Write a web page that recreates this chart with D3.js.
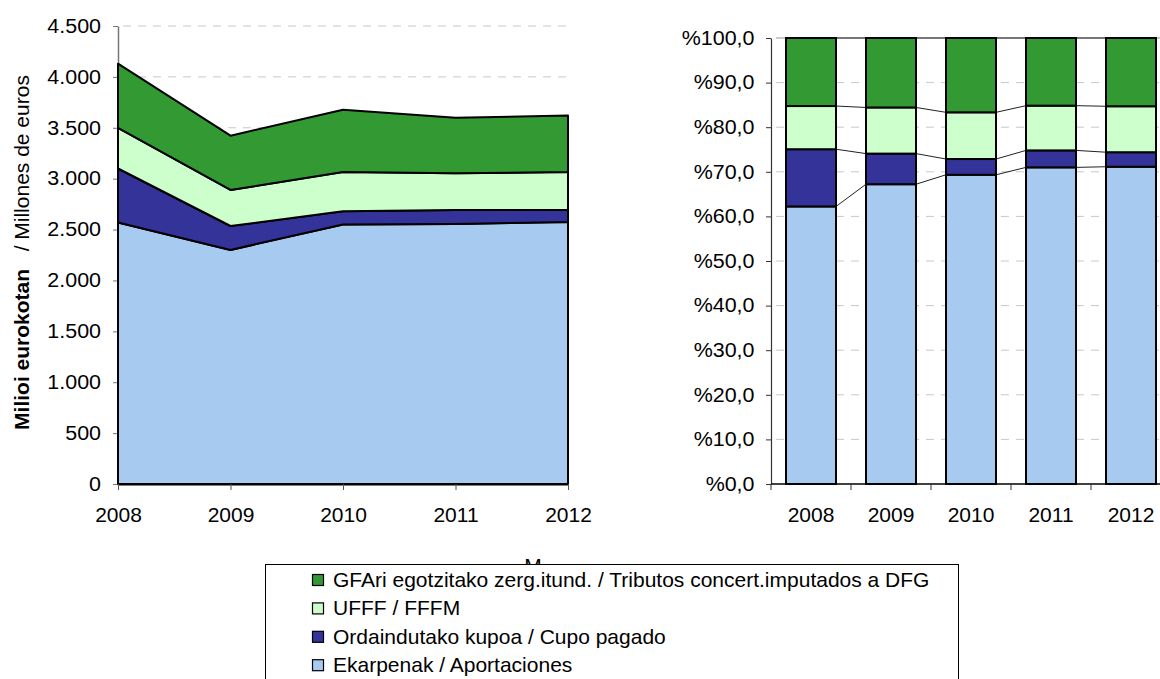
<!DOCTYPE html>
<html>
<head>
<meta charset="utf-8">
<script src="https://cdn.jsdelivr.net/npm/d3@7"></script>
<style>
  html, body { margin: 0; padding: 0; background: #fff; }
  svg { display: block; font-family: "Liberation Sans", Arial, sans-serif; }
</style>
</head>
<body>
<svg id="chart" width="1160" height="679"></svg>
<script>
// ---- data ----
const years = ["2008", "2009", "2010", "2011", "2012"];
const aportaciones = [2570, 2300, 2550, 2555, 2575];   // Ekarpenak / Aportaciones
const cupoPagado   = [530, 235, 130, 137, 118];        // Ordaindutako kupoa / Cupo pagado
const fffm         = [400, 354, 385, 361, 373];        // UFFF / FFFM
const tributosDFG  = [630, 533, 613, 546, 554];        // GFAri egotzitako zerg.itund.
const seriesKeys   = ["aport", "cupo", "fffm", "trib"];
const seriesNames  = ["Ekarpenak / Aportaciones", "Ordaindutako kupoa / Cupo pagado", "UFFF / FFFM",
                      "GFAri egotzitako zerg.itund. / Tributos concert.imputados a DFG"];
const seriesColors = ["#A6CAF0", "#333399", "#CCFFCC", "#339933"];
const leftTicks = [0, 500, 1000, 1500, 2000, 2500, 3000, 3500, 4000, 4500];
const pctTicks  = [0, 10, 20, 30, 40, 50, 60, 70, 80, 90, 100];
const yTitleBold = "Milioi eurokotan";
const yTitleRest = "   / Millones de euros";
const xTitle = "M";

const rows = years.map((y, i) => ({
  year: y, aport: aportaciones[i], cupo: cupoPagado[i], fffm: fffm[i], trib: tributosDFG[i]
}));

const svg = d3.select("#chart");
const colorOf = d3.scaleOrdinal().domain(seriesKeys).range(seriesColors);
const locale = d3.formatLocale({decimal: ",", thousands: ".", grouping: [3], currency: ["", ""]});
const fmtThousands = locale.format(",");
const fmtPct = v => "%" + locale.format(".1f")(v);

const stretch = function () {
  const x = this.getAttribute("x") || 0;
  d3.select(this).attr("transform", `translate(${x},0) scale(1.1,1)`).attr("x", 0);
};

// ================= LEFT: stacked area =================
const L = {left: 118, right: 568, top: 26, bottom: 484};
const xL = d3.scalePoint().domain(years).range([L.left, L.right]);
const yL = d3.scaleLinear().domain([0, 4500]).range([L.bottom, L.top]);

// gridlines
svg.append("g").selectAll("line").data(leftTicks.filter(t => t > 0)).join("line")
  .attr("x1", L.left + 5).attr("x2", L.right)
  .attr("y1", d => yL(d)).attr("y2", d => yL(d))
  .attr("stroke", "#c8c8c8").attr("stroke-width", 1).attr("stroke-dasharray", "8,7");

const stackL = d3.stack().keys(seriesKeys)(rows);
const area = d3.area()
  .x(d => xL(d.data.year))
  .y0(d => yL(d[0]))
  .y1(d => yL(d[1]));

// left y axis
const axL = svg.append("g").attr("transform", `translate(${L.left},0)`)
  .call(d3.axisLeft(yL).tickValues(leftTicks).tickFormat(fmtThousands)
    .tickSize(5).tickSizeOuter(0).tickPadding(12));
axL.select(".domain").attr("stroke", "#777").attr("stroke-width", 1.5);
axL.selectAll(".tick line").attr("stroke", "#777");
axL.selectAll("text").attr("font-size", 19.5).attr("fill", "#000")
  .attr("font-family", "Liberation Sans, Arial, sans-serif").each(stretch);

svg.append("g").selectAll("path").data(stackL).join("path")
  .attr("d", d => area(d) + "Z")
  .attr("fill", d => colorOf(d.key))
  .attr("stroke", "#000").attr("stroke-width", 2).attr("stroke-linejoin", "round");

// left x axis
const axLB = svg.append("g").attr("transform", `translate(0,${L.bottom})`)
  .call(d3.axisBottom(xL).tickSize(6).tickSizeOuter(0).tickPadding(17));
axLB.select(".domain").attr("stroke", "#000").attr("stroke-width", 2);
axLB.selectAll(".tick line").attr("stroke", "#555");
axLB.selectAll("text").attr("font-size", 21).attr("fill", "#000")
  .attr("font-family", "Liberation Sans, Arial, sans-serif");

// left y title
const yt = svg.append("text")
  .attr("transform", `translate(28.5,252.5) rotate(-90)`)
  .attr("text-anchor", "middle").attr("font-size", 21).attr("fill", "#000")
  .style("white-space", "pre");
yt.append("tspan").attr("font-weight", "bold").text(yTitleBold);
yt.append("tspan").text(yTitleRest);

// ================= RIGHT: 100% stacked bars =================
const R = {left: 771, right: 1171, top: 38, bottom: 484};
const xR = d3.scaleBand().domain(years).range([R.left, R.right]).paddingInner(0.375).paddingOuter(0.1875);
const yR = d3.scaleLinear().domain([0, 1]).range([R.bottom, R.top]);
const yRpct = d3.scaleLinear().domain([0, 100]).range([R.bottom, R.top]);

svg.append("g").selectAll("line").data(pctTicks.filter(t => t > 0)).join("line")
  .attr("x1", R.left + 5).attr("x2", R.right)
  .attr("y1", d => yRpct(d)).attr("y2", d => yRpct(d))
  .attr("stroke", d => d === 100 ? "#999" : "#c8c8c8").attr("stroke-width", 1)
  .attr("stroke-dasharray", d => d === 100 ? null : "8,7");

const stackR = d3.stack().keys(seriesKeys).offset(d3.stackOffsetExpand)(rows);

// series lines connecting segment tops between bars
const sl = svg.append("g");
stackR.forEach(s => {
  for (let i = 0; i < s.length - 1; i++) {
    sl.append("line")
      .attr("x1", xR(years[i]) + xR.bandwidth()).attr("x2", xR(years[i + 1]))
      .attr("y1", yR(s[i][1])).attr("y2", yR(s[i + 1][1]))
      .attr("stroke", "#222").attr("stroke-width", 1);
  }
});

svg.append("g").selectAll("g").data(stackR).join("g")
  .attr("fill", d => colorOf(d.key))
  .selectAll("rect").data(d => d).join("rect")
  .attr("x", d => xR(d.data.year))
  .attr("width", xR.bandwidth())
  .attr("y", d => yR(d[1]))
  .attr("height", d => yR(d[0]) - yR(d[1]))
  .attr("stroke", "#000").attr("stroke-width", 2);

const axR = svg.append("g").attr("transform", `translate(${R.left},0)`)
  .call(d3.axisLeft(yRpct).tickValues(pctTicks).tickFormat(fmtPct)
    .tickSize(5).tickSizeOuter(0).tickPadding(11.5));
axR.select(".domain").attr("stroke", "#333").attr("stroke-width", 1.2);
axR.selectAll(".tick line").attr("stroke", "#333");
axR.selectAll("text").attr("font-size", 19.5).attr("fill", "#000")
  .attr("font-family", "Liberation Sans, Arial, sans-serif").each(stretch);

const axRB = svg.append("g").attr("transform", `translate(0,${R.bottom})`)
  .call(d3.axisBottom(xR).tickSize(0).tickPadding(23));
axRB.select(".domain").remove();
axRB.selectAll("text").attr("font-size", 21).attr("fill", "#000")
  .attr("font-family", "Liberation Sans, Arial, sans-serif");
svg.append("line").attr("x1", R.left).attr("x2", R.right)
  .attr("y1", R.bottom).attr("y2", R.bottom).attr("stroke", "#000").attr("stroke-width", 1.5);
const bounds = d3.range(years.length + 1).map(i => R.left + i * xR.step());
svg.append("g").selectAll("line").data(bounds).join("line")
  .attr("x1", d => d).attr("x2", d => d)
  .attr("y1", R.bottom).attr("y2", R.bottom + 6)
  .attr("stroke", "#333");

// ================= x title (mostly hidden) + legend =================
svg.append("text").attr("x", 533).attr("y", 573).attr("text-anchor", "middle")
  .attr("font-size", 21).attr("fill", "#000").text(xTitle);

const legendOrder = [3, 2, 1, 0];
const lg = svg.append("g");
lg.append("rect").attr("x", 265.5).attr("y", 564.5).attr("width", 693).attr("height", 130)
  .attr("fill", "#fff").attr("stroke", "#000").attr("stroke-width", 1);
legendOrder.forEach((si, r) => {
  const base = 587 + r * 28.4;
  lg.append("rect").attr("x", 312.5).attr("y", base - 12.5).attr("width", 11).attr("height", 11)
    .attr("fill", seriesColors[si]).attr("stroke", "#000").attr("stroke-width", 1.2);
  lg.append("text").attr("x", 333).attr("y", base).attr("font-size", 21).attr("fill", "#000")
    .text(seriesNames[si]);
});
</script>
</body>
</html>
